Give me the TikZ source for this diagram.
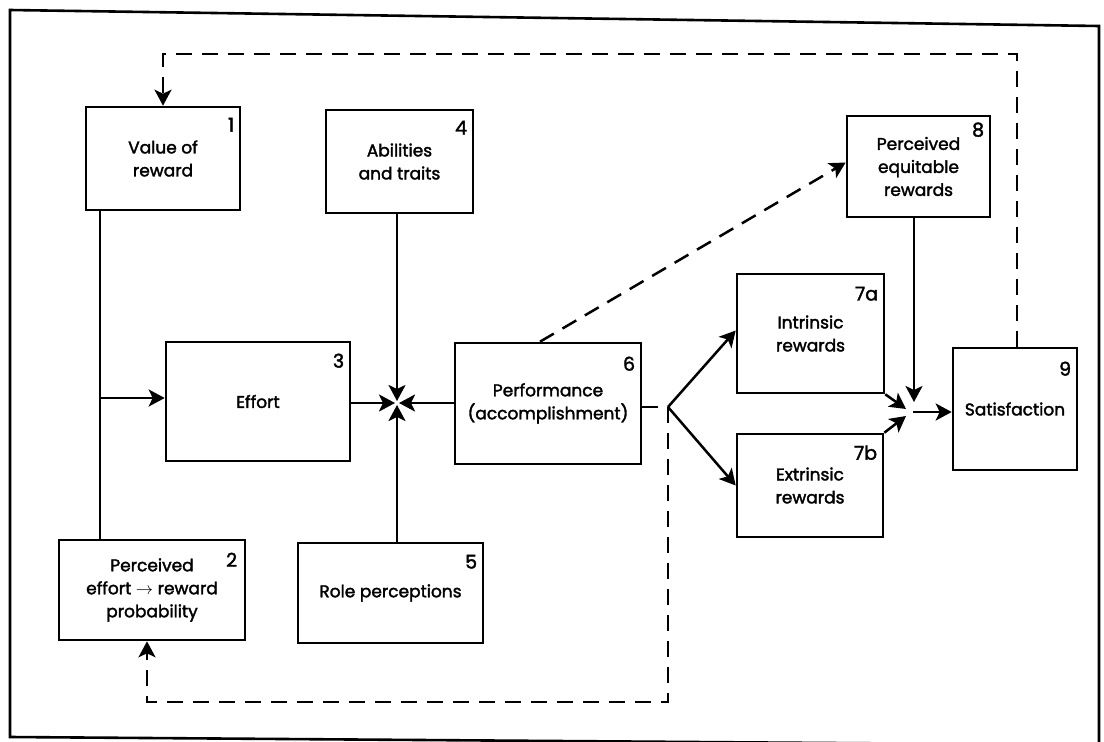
\documentclass[tikz,border=0pt]{standalone}
\usepackage{fontspec}
\setmainfont{Poppins}
\newfontfamily\boxfont{Poppins}[FakeBold=2]
\usetikzlibrary{arrows.meta}
\begin{document}
\begin{tikzpicture}[x=1pt,y=-1pt,
  box/.style={draw, line width=2.6pt, inner sep=0pt, align=center, font=\boxfont\fontsize{17}{23}\selectfont},
  num/.style={anchor=east, inner sep=0pt, font=\boxfont\fontsize{19}{20}\selectfont},
  arrtip/.style={-{Stealth[length=16pt,width=17pt,inset=4pt]}},
  conn/.style={line width=2.5pt, arrtip},
  plainln/.style={line width=2.5pt},
  dsh/.style={line width=2.5pt, dash pattern=on 16pt off 10pt},
]
\useasboundingbox (0,0) rectangle (1104,742);
\clip (0,0) rectangle (1104,742);
% frame
\draw[line width=2.6pt] (1099,742) -- (1099,26) -- (10,10) -- (10,737) -- (1104,745);

% boxes
\node[box, minimum width=154, minimum height=103] (b1) at (163,158.5) {Value of\\reward};
\node[box, minimum width=147, minimum height=103] (b4) at (399.5,161.5) {Abilities\\and traits};
\node[box, minimum width=184, minimum height=119] (b3) at (258,401.5) {Effort};
\node[box, minimum width=186, minimum height=121] (b6) at (548,403.5) {Performance\\(accomplishment)};
\node[box, minimum width=186, minimum height=100] (b2) at (152,590) {Perceived\\effort $\to$ reward\\probability};
\node[box, minimum width=185, minimum height=100] (b5) at (390.5,593) {Role perceptions};
\node[box, minimum width=147, minimum height=119] (b7a) at (810.5,333.5) {Intrinsic\\rewards};
\node[box, minimum width=146, minimum height=103] (b7b) at (810,485.5) {Extrinsic\\rewards};
\node[box, minimum width=143, minimum height=101] (b8) at (918.5,166.5) {Perceived\\equitable\\rewards};
\node[box, minimum width=124, minimum height=122] (b9) at (1015,409) {Satisfaction};

% numbers
\node[num] (n1) at ([shift={(-7,19)}]b1.north east) {1};
\node[num] (n4) at ([shift={(-7,19)}]b4.north east) {4};
\node[num] (n3) at ([shift={(-7,20)}]b3.north east) {3};
\node[num] (n6) at ([shift={(-7,22)}]b6.north east) {6};
\node[num] (n2) at ([shift={(-9,21)}]b2.north east) {2};
\node[num] (n5) at ([shift={(-7,20)}]b5.north east) {5};
\node[num] (n7a) at ([shift={(-7,21)}]b7a.north east) {7a};
\node[num] (n7b) at ([shift={(-7,20)}]b7b.north east) {7b};
\node[num] (n8) at ([shift={(-7,15)}]b8.north east) {8};
\node[num] (n9) at ([shift={(-7,22)}]b9.north east) {9};

% left junction
\coordinate (J) at (397,403);
\coordinate (K) at (100,398);
\draw[plainln] (b1.south -| K) -- (b2.north -| K);
\draw[conn] (K) -- (K -| b3.west);
\draw[conn, shorten >=2pt] (b3.east |- J) -- (J);
\draw[conn, shorten >=2pt] (b6.west |- J) -- (J);
\draw[conn, shorten >=2pt] (b4.south -| J) -- (J);
\draw[conn, shorten >=2pt] (b5.north -| J) -- (J);

% performance to equitable rewards
\draw[dsh, arrtip] ([shift={(-8,0)}]b6.north) -- ([shift={(0,-4)}]b8.west);

% branch
\coordinate (B) at (668,407);
\coordinate (C1) at (668,702);
\coordinate (C2) at (147,702);
\draw[dsh] (b6.east |- B) -- (B);
\draw[conn] (B) -- ([shift={(0,-3)}]b7a.west);
\draw[conn] (B) -- (b7b.west);
\draw[dsh, arrtip] (B) -- (C1) -- (C2) -- (C2 |- b2.south);

% right junction
\coordinate (J2) at (911,412);
\coordinate (J2top) at (914,402);
\draw[conn] (b7a.south east) -- ([shift={(-5,-3)}]J2);
\draw[conn] (b7b.north east) -- ([shift={(-5,4)}]J2);
\draw[conn] (b8.south -| J2top) -- (J2top);
\draw[conn] ([shift={(2,0)}]J2) -- (b9.west |- J2);

% feedback from satisfaction
\coordinate (T1) at (1017,54);
\coordinate (T2) at (163,54);
\draw[dsh, arrtip] (b9.north -| T1) -- (T1) -- (T2) -- (T2 |- b1.north);
\end{tikzpicture}
\end{document}
